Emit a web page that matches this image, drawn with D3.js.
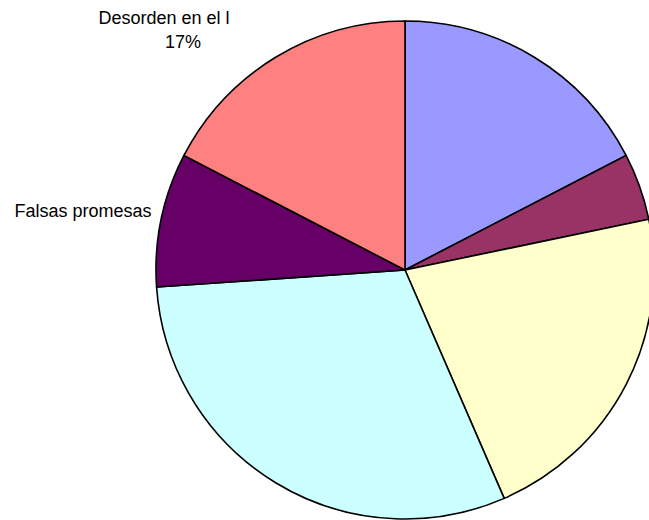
<!DOCTYPE html>
<html>
<head>
<meta charset="utf-8">
<script src="https://cdn.jsdelivr.net/npm/d3@7"></script>
<style>
  html, body { margin: 0; padding: 0; background: #ffffff; }
  svg { display: block; }
  text { font-family: "Liberation Sans", Arial, sans-serif; fill: #000; }
</style>
</head>
<body>
<svg id="chart" width="649" height="520"></svg>
<script>
// Slice data, in drawing order clockwise from 12 o'clock
const categories = ["", "", "", "", "Falsas promesas", "Desorden en el l"];
const values = [4, 1, 5, 7, 2, 4];
const colors = ["#9999FF", "#993366", "#FFFFCC", "#CCFFFF", "#660066", "#FF8080"];
// Which slices show their percentage under the name
const showPercent = [false, false, false, false, false, true];

const width = 649, height = 520;
const cx = 405, cy = 270, radius = 249;

const svg = d3.select("#chart");
const g = svg.append("g").attr("transform", `translate(${cx},${cy})`);

const pie = d3.pie().sort(null).value(d => d)(values);
const arc = d3.arc().innerRadius(0).outerRadius(radius);
const total = d3.sum(values);

g.selectAll("path.slice")
  .data(pie)
  .join("path")
  .attr("class", "slice")
  .attr("d", arc)
  .attr("fill", (d, i) => colors[i])
  .attr("stroke", "#000")
  .attr("stroke-width", 1.6)
  .attr("stroke-linejoin", "round");

// Label offsets (from pie centre) for the data labels that sit outside the pie
const labelPos = [null, null, null, null, [-322, -53], [-241, -246]];

pie.forEach((d, i) => {
  if (!labelPos[i] || !categories[i]) return;
  const [lx, ly] = labelPos[i];
  const t = g.append("text")
    .attr("x", lx)
    .attr("y", ly)
    .attr("text-anchor", "middle")
    .style("font-size", "18px");
  t.append("tspan").attr("x", lx).attr("dy", 0).text(categories[i]);
  if (showPercent[i]) {
    const pct = d3.format(".0%")(d.value / total);
    t.append("tspan").attr("x", lx + 19).attr("dy", 24).text(pct);
  }
});
</script>
</body>
</html>
